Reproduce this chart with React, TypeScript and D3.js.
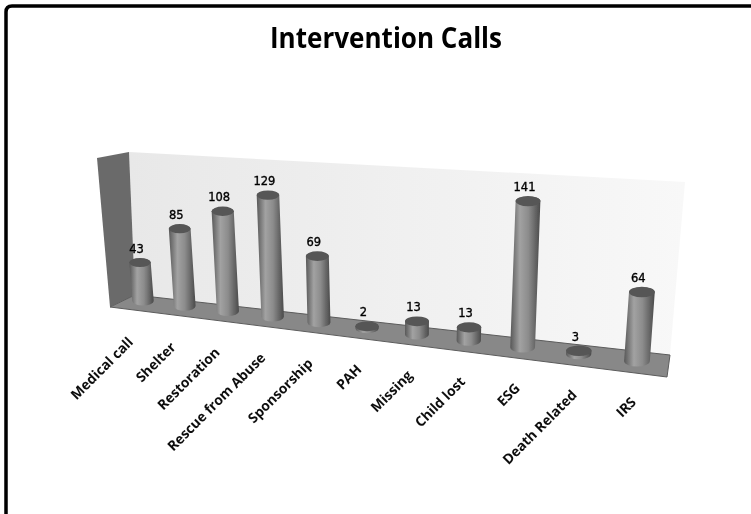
import React from "react";
import * as d3 from "d3";

const categories = ["Medical call","Shelter","Restoration","Rescue from Abuse","Sponsorship","PAH","Missing","Child lost","ESG","Death Related","IRS"];
const values = [43,85,108,129,69,2,13,13,141,3,64];
const chartTitle = "Intervention Calls";

const W = 751, H = 514;
const persp = 0.017;
const indexScale = d3.scaleLinear().domain([0, 1]).range([0, 41]);
const valueScale = d3.scaleLinear().domain([0, 100]).range([0, 89.5]);
const depth = (i: number) => 1 / (1 - persp * i);
const baseX = (i: number) => 143 + indexScale(i) * depth(i);
const baseY = (i: number) => 301 + 0.1215 * (baseX(i) - 143);
const vanishX = 400;

const backWall = [[129,152],[685,182],[670,355],[135,295]];
const leftWall = [[97,158],[129,152],[135,295],[110,307]];
const floor = [[110,307],[135,295],[670,355],[667,377]];
const poly = d3.line();

function cylinder(i: number, v: number) {
  const w = depth(i);
  const xb = baseX(i), yb = baseY(i);
  const h = valueScale(v) * w;
  const xt = xb + (xb - vanishX) * 0.0003 * h;
  const yt = yb - h;
  const r = 10.7 * w;
  const ryTop = 3.9 * w;
  const ryBot = 4.6 * w;
  const body = `M${xb - r},${yb} L${xt - r},${yt} A${r},${ryTop} 0 0 1 ${xt + r},${yt} L${xb + r},${yb} A${r},${ryBot} 0 0 1 ${xb - r},${yb} Z`;
  return { xb, yb, xt, yt, r, ryTop, body };
}

export default function App() {
  return (
    <svg width={W} height={H} viewBox={`0 0 ${W} ${H}`} style={{ position: "absolute", left: 0, top: 0, background: "#fff" }}>
      <defs>
        <filter id="soft" x="-5%" y="-5%" width="110%" height="110%">
          <feGaussianBlur stdDeviation="0.6" />
        </filter>
        <linearGradient id="wall" x1="0" x2="1" y1="0" y2="0">
          <stop offset="0" stopColor="#e8e8e8" />
          <stop offset="1" stopColor="#f8f8f8" />
        </linearGradient>
        <linearGradient id="cyl" x1="0" x2="1" y1="0" y2="0">
          <stop offset="0" stopColor="#585858" />
          <stop offset="0.32" stopColor="#a2a2a2" />
          <stop offset="0.6" stopColor="#8c8c8c" />
          <stop offset="1" stopColor="#4a4a4a" />
        </linearGradient>
      </defs>
      <g filter="url(#soft)">
        <path d={`M6,${H} V12 Q6,6 12,6 H${W}`} fill="none" stroke="#000" strokeWidth={3.5} />
        <text x={386} y={48} textAnchor="middle" fontFamily="'Open Sans', sans-serif" fontWeight={700} fontSize={28} textLength={232} lengthAdjust="spacingAndGlyphs" fill="#000">{chartTitle}</text>
        <path d={poly(backWall as any) + "Z"} fill="url(#wall)" />
        <path d={poly(leftWall as any) + "Z"} fill="#6a6a6a" />
        <path d={poly(floor as any) + "Z"} fill="#888888" stroke="#5c5c5c" strokeWidth={1} />
        {values.map((v, i) => {
          const c = cylinder(i, v);
          return (
            <g key={categories[i]}>
              <path d={c.body} fill="url(#cyl)" />
              <ellipse cx={c.xt} cy={c.yt} rx={c.r} ry={c.ryTop + 0.6} fill="#565656" />
              <text x={c.xt - 3.5} y={c.yt - 10} textAnchor="middle" fontFamily="'DejaVu Sans', sans-serif" fontSize={11.5} stroke="#000" strokeWidth={0.35} fill="#000">{v}</text>
            </g>
          );
        })}
        {categories.map((name, i) => {
          const ax = baseX(i) - 9 + i * 0.9;
          const ay = baseY(i) + 42;
          return (
            <text key={name} transform={`translate(${ax},${ay}) rotate(-45)`} textAnchor="end" fontFamily="'Open Sans', sans-serif" fontWeight={700} fontSize={13.8} fill="#111">{name}</text>
          );
        })}
      </g>
    </svg>
  );
}
